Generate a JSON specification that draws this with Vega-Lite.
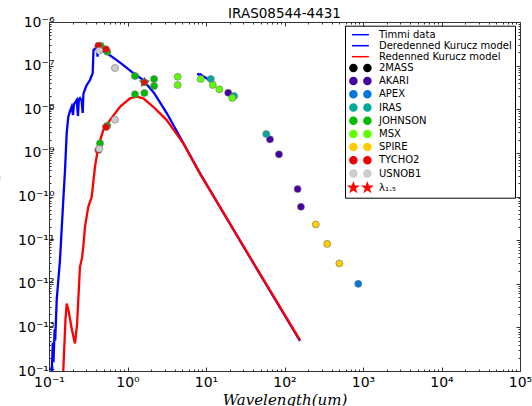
{
  "$schema": "https://vega.github.io/schema/vega-lite/v6.json",
  "width": 471,
  "height": 349,
  "autosize": {"type": "none"},
  "padding": {"left": 49, "top": 22, "right": 12, "bottom": 35},
  "background": "white",
  "title": {"text": "IRAS08544-4431", "font": "DejaVu Sans", "fontSize": 13.5, "fontWeight": "normal", "color": "black", "offset": -5},
  "datasets": {
    "lines": [
      {"s": "Deredenned Kurucz model", "x": 0.1082, "y": 1.0e-14},
      {"s": "Deredenned Kurucz model", "x": 0.1120, "y": 4.5e-14},
      {"s": "Deredenned Kurucz model", "x": 0.1140, "y": 1.6e-14},
      {"s": "Deredenned Kurucz model", "x": 0.1180, "y": 9.0e-14},
      {"s": "Deredenned Kurucz model", "x": 0.1200, "y": 5.0e-14},
      {"s": "Deredenned Kurucz model", "x": 0.1253, "y": 4.2e-13},
      {"s": "Deredenned Kurucz model", "x": 0.1314, "y": 1.21e-12},
      {"s": "Deredenned Kurucz model", "x": 0.1380, "y": 3.48e-12},
      {"s": "Deredenned Kurucz model", "x": 0.1521, "y": 8.3e-11},
      {"s": "Deredenned Kurucz model", "x": 0.1600, "y": 4.04e-10},
      {"s": "Deredenned Kurucz model", "x": 0.1680, "y": 2.84e-9},
      {"s": "Deredenned Kurucz model", "x": 0.1762, "y": 6.76e-9},
      {"s": "Deredenned Kurucz model", "x": 0.1850, "y": 9.0e-9},
      {"s": "Deredenned Kurucz model", "x": 0.1946, "y": 1.14e-8},
      {"s": "Deredenned Kurucz model", "x": 0.2020, "y": 7.4e-9},
      {"s": "Deredenned Kurucz model", "x": 0.2080, "y": 1.3e-8},
      {"s": "Deredenned Kurucz model", "x": 0.2254, "y": 1.63e-8},
      {"s": "Deredenned Kurucz model", "x": 0.2340, "y": 7.0e-9},
      {"s": "Deredenned Kurucz model", "x": 0.2400, "y": 1.7e-8},
      {"s": "Deredenned Kurucz model", "x": 0.2480, "y": 1.81e-8},
      {"s": "Deredenned Kurucz model", "x": 0.2600, "y": 1.6e-8},
      {"s": "Deredenned Kurucz model", "x": 0.2688, "y": 8.2e-9},
      {"s": "Deredenned Kurucz model", "x": 0.2740, "y": 2.2e-8},
      {"s": "Deredenned Kurucz model", "x": 0.2790, "y": 2.48e-8},
      {"s": "Deredenned Kurucz model", "x": 0.3020, "y": 3.59e-8},
      {"s": "Deredenned Kurucz model", "x": 0.3330, "y": 4.68e-8},
      {"s": "Deredenned Kurucz model", "x": 0.3603, "y": 6.76e-8},
      {"s": "Deredenned Kurucz model", "x": 0.3690, "y": 2.28e-7},
      {"s": "Deredenned Kurucz model", "x": 0.3900, "y": 2.5e-7},
      {"s": "Deredenned Kurucz model", "x": 0.4050, "y": 2.71e-7},
      {"s": "Deredenned Kurucz model", "x": 0.4150, "y": 1.6e-7},
      {"s": "Deredenned Kurucz model", "x": 0.4250, "y": 2.6e-7},
      {"s": "Deredenned Kurucz model", "x": 0.4464, "y": 2.28e-7},
      {"s": "Deredenned Kurucz model", "x": 0.5430, "y": 1.95e-7},
      {"s": "Deredenned Kurucz model", "x": 0.7286, "y": 1.34e-7},
      {"s": "Deredenned Kurucz model", "x": 0.8840, "y": 1.03e-7},
      {"s": "Deredenned Kurucz model", "x": 1.186, "y": 6.76e-8},
      {"s": "Deredenned Kurucz model", "x": 1.589, "y": 4.68e-8},
      {"s": "Deredenned Kurucz model", "x": 2.176, "y": 2.36e-8},
      {"s": "Deredenned Kurucz model", "x": 3.158, "y": 8.18e-9},
      {"s": "Deredenned Kurucz model", "x": 5.14, "y": 1.68e-9},
      {"s": "Deredenned Kurucz model", "x": 8.39, "y": 3.4e-10},
      {"s": "Deredenned Kurucz model", "x": 36.3, "y": 4.0e-12},
      {"s": "Deredenned Kurucz model", "x": 157.5, "y": 4.9e-14},
      {"s": "Timmi data", "x": 7.75, "y": 6.65e-8},
      {"s": "Timmi data", "x": 8.1, "y": 6.2e-8},
      {"s": "Timmi data", "x": 8.5, "y": 6.35e-8},
      {"s": "Timmi data", "x": 9.0, "y": 5.8e-8},
      {"s": "Timmi data", "x": 9.7, "y": 5.4e-8},
      {"s": "Timmi data", "x": 10.5, "y": 4.9e-8},
      {"s": "Timmi data", "x": 11.2, "y": 4.6e-8},
      {"s": "Timmi data", "x": 12.0, "y": 4.3e-8},
      {"s": "Timmi data", "x": 12.8, "y": 4.0e-8},
      {"s": "Redenned Kurucz model", "x": 0.152, "y": 1.0e-14},
      {"s": "Redenned Kurucz model", "x": 0.162, "y": 1.46e-13},
      {"s": "Redenned Kurucz model", "x": 0.168, "y": 3.53e-13},
      {"s": "Redenned Kurucz model", "x": 0.177, "y": 2.48e-13},
      {"s": "Redenned Kurucz model", "x": 0.1963, "y": 8.6e-14},
      {"s": "Redenned Kurucz model", "x": 0.2143, "y": 4.27e-14},
      {"s": "Redenned Kurucz model", "x": 0.2274, "y": 1.12e-13},
      {"s": "Redenned Kurucz model", "x": 0.236, "y": 4.2e-13},
      {"s": "Redenned Kurucz model", "x": 0.248, "y": 2.44e-12},
      {"s": "Redenned Kurucz model", "x": 0.2633, "y": 3.87e-12},
      {"s": "Redenned Kurucz model", "x": 0.2735, "y": 7.0e-12},
      {"s": "Redenned Kurucz model", "x": 0.2874, "y": 2.02e-11},
      {"s": "Redenned Kurucz model", "x": 0.3166, "y": 5.8e-11},
      {"s": "Redenned Kurucz model", "x": 0.35, "y": 9.8e-11},
      {"s": "Redenned Kurucz model", "x": 0.3855, "y": 4.8e-10},
      {"s": "Redenned Kurucz model", "x": 0.4246, "y": 1.38e-9},
      {"s": "Redenned Kurucz model", "x": 0.4916, "y": 3.33e-9},
      {"s": "Redenned Kurucz model", "x": 0.5985, "y": 5.65e-9},
      {"s": "Redenned Kurucz model", "x": 0.8025, "y": 1.14e-8},
      {"s": "Redenned Kurucz model", "x": 1.076, "y": 1.78e-8},
      {"s": "Redenned Kurucz model", "x": 1.31, "y": 1.94e-8},
      {"s": "Redenned Kurucz model", "x": 1.589, "y": 1.78e-8},
      {"s": "Redenned Kurucz model", "x": 2.132, "y": 1.14e-8},
      {"s": "Redenned Kurucz model", "x": 3.158, "y": 5.65e-9},
      {"s": "Redenned Kurucz model", "x": 5.14, "y": 1.65e-9},
      {"s": "Redenned Kurucz model", "x": 8.39, "y": 3.35e-10},
      {"s": "Redenned Kurucz model", "x": 36.3, "y": 4.1e-12},
      {"s": "Redenned Kurucz model", "x": 157.5, "y": 5.1e-14}
    ],
    "pts": [
      {"s": "AKARI", "x": 19.2, "y": 2.39e-8},
      {"s": "AKARI", "x": 65.3, "y": 2.04e-9},
      {"s": "AKARI", "x": 85, "y": 9.25e-10},
      {"s": "AKARI", "x": 147, "y": 1.48e-10},
      {"s": "AKARI", "x": 162, "y": 5.8e-11},
      {"s": "APEX", "x": 870, "y": 9.95e-13},
      {"s": "IRAS", "x": 11.5, "y": 4.93e-8},
      {"s": "IRAS", "x": 22.8, "y": 2.01e-8},
      {"s": "IRAS", "x": 58.6, "y": 2.7e-9},
      {"s": "JOHNSON", "x": 0.456, "y": 2.86e-7},
      {"s": "JOHNSON", "x": 0.553, "y": 2.08e-7},
      {"s": "JOHNSON", "x": 1.246, "y": 5.77e-8},
      {"s": "JOHNSON", "x": 1.64, "y": 4.14e-8},
      {"s": "JOHNSON", "x": 2.18, "y": 4.93e-8},
      {"s": "JOHNSON", "x": 2.18, "y": 3.4e-8},
      {"s": "JOHNSON", "x": 0.446, "y": 1.65e-9},
      {"s": "JOHNSON", "x": 0.553, "y": 4.19e-9},
      {"s": "JOHNSON", "x": 1.246, "y": 2.2e-8},
      {"s": "JOHNSON", "x": 1.64, "y": 2.36e-8},
      {"s": "MSX", "x": 4.36, "y": 5.56e-8},
      {"s": "MSX", "x": 4.36, "y": 3.59e-8},
      {"s": "MSX", "x": 8.56, "y": 4.93e-8},
      {"s": "MSX", "x": 12.2, "y": 3.59e-8},
      {"s": "MSX", "x": 14.8, "y": 2.86e-8},
      {"s": "MSX", "x": 21.6, "y": 1.81e-8},
      {"s": "SPIRE", "x": 250, "y": 2.29e-11},
      {"s": "SPIRE", "x": 350, "y": 8.2e-12},
      {"s": "SPIRE", "x": 500, "y": 2.92e-12},
      {"s": "TYCHO2", "x": 0.425, "y": 2.86e-7},
      {"s": "TYCHO2", "x": 0.532, "y": 2.37e-7},
      {"s": "TYCHO2", "x": 0.425, "y": 1.16e-9},
      {"s": "TYCHO2", "x": 0.532, "y": 3.9e-9},
      {"s": "USNOB1", "x": 0.437, "y": 2.2e-7},
      {"s": "USNOB1", "x": 0.693, "y": 8.8e-8},
      {"s": "USNOB1", "x": 0.437, "y": 1.24e-9},
      {"s": "USNOB1", "x": 0.693, "y": 5.74e-9},
      {"s": "λ₁.₅", "x": 1.64, "y": 4.14e-8}
    ]
  },
  "layer": [
    {
      "data": {"name": "lines"},
      "transform": [{"filter": "datum.s !== 'Redenned Kurucz model'"}],
      "mark": {"type": "line", "strokeWidth": 2.3},
      "encoding": {
        "x": {"field": "x", "type": "quantitative", "scale": {"type": "log", "domain": [0.1, 100000], "nice": false},
          "axis": {"orient": "bottom", "domain": false, "grid": false,
            "values": [0.1,0.2,0.3,0.4,0.5,0.6,0.7,0.8,0.9,1,2,3,4,5,6,7,8,9,10,20,30,40,50,60,70,80,90,100,200,300,400,500,600,700,800,900,1000,2000,3000,4000,5000,6000,7000,8000,9000,10000,20000,30000,40000,50000,60000,70000,80000,90000,100000],
            "labelExpr": "abs(log(datum.value)/LN10 - round(log(datum.value)/LN10)) > 0.01 ? '' : ['10⁻¹','10⁰','10¹','10²','10³','10⁴','10⁵'][round(log(datum.value)/LN10)+1]",
            "tickSize": {"condition": {"test": "abs(log(datum.value)/LN10 - round(log(datum.value)/LN10)) > 0.01", "value": -2}, "value": -4},
            "tickColor": "#333",
            "labelFont": "DejaVu Sans", "labelFontSize": 14, "labelColor": "black", "labelPadding": 8,
            "labelFlush": false, "labelOverlap": false,
            "title": "Wavelength(um)", "titleFont": "DejaVu Serif", "titleFontStyle": "italic", "titleFontWeight": "normal", "titleFontSize": 15, "titleColor": "black", "titleY": 33, "titleBaseline": "alphabetic"}},
        "y": {"field": "y", "type": "quantitative", "scale": {"type": "log", "domain": [1e-14, 1e-6], "nice": false},
          "axis": {"orient": "left", "domain": false, "grid": false,
            "values": [1e-14,2e-14,3e-14,4e-14,5e-14,6e-14,7e-14,8e-14,9e-14,1e-13,2e-13,3e-13,4e-13,5e-13,6e-13,7e-13,8e-13,9e-13,1e-12,2e-12,3e-12,4e-12,5e-12,6e-12,7e-12,8e-12,9e-12,1e-11,2e-11,3e-11,4e-11,5e-11,6e-11,7e-11,8e-11,9e-11,1e-10,2e-10,3e-10,4e-10,5e-10,6e-10,7e-10,8e-10,9e-10,1e-9,2e-9,3e-9,4e-9,5e-9,6e-9,7e-9,8e-9,9e-9,1e-8,2e-8,3e-8,4e-8,5e-8,6e-8,7e-8,8e-8,9e-8,1e-7,2e-7,3e-7,4e-7,5e-7,6e-7,7e-7,8e-7,9e-7,1e-6],
            "labelExpr": "abs(log(datum.value)/LN10 - round(log(datum.value)/LN10)) > 0.01 ? '' : ['10⁻¹⁴','10⁻¹³','10⁻¹²','10⁻¹¹','10⁻¹⁰','10⁻⁹','10⁻⁸','10⁻⁷','10⁻⁶'][round(log(datum.value)/LN10)+14]",
            "tickSize": {"condition": {"test": "abs(log(datum.value)/LN10 - round(log(datum.value)/LN10)) > 0.01", "value": -2}, "value": -4},
            "tickColor": "#333",
            "labelFont": "DejaVu Sans", "labelFontSize": 14, "labelColor": "black", "labelPadding": -1,
            "labelFlush": false, "labelOverlap": false,
            "title": "λFλ (erg/s/cm²)", "titleFont": "DejaVu Serif", "titleFontStyle": "italic", "titleFontWeight": "normal", "titleFontSize": 15, "titleColor": "black", "titleX": -50, "titleY": 155, "titleBaseline": "bottom"}},
        "color": {"field": "s", "type": "nominal",
          "scale": {"domain": ["Timmi data","Deredenned Kurucz model","Redenned Kurucz model","2MASS","AKARI","APEX","IRAS","JOHNSON","MSX","SPIRE","TYCHO2","USNOB1","λ₁.₅"],
                    "range": ["#0000ff","#0000ff","#ff0000","#000000","#4400a1","#0077dd","#00aa99","#00bb00","#5dff00","#ffcc00","#ee0000","#cccccc","#ff0000"]}}
      }
    },
    {
      "data": {"name": "lines"},
      "transform": [{"filter": "datum.s === 'Redenned Kurucz model'"}],
      "mark": {"type": "line", "strokeWidth": 2.3},
      "encoding": {
        "x": {"field": "x", "type": "quantitative", "axis": null},
        "y": {"field": "y", "type": "quantitative", "axis": null},
        "color": {"field": "s", "type": "nominal"}
      }
    },
    {
      "data": {"name": "pts"},
      "transform": [{"filter": "datum.s !== 'λ₁.₅'"}],
      "mark": {"type": "point", "shape": "circle", "filled": true, "size": 50, "opacity": 1, "stroke": "#777", "strokeWidth": 0.6},
      "encoding": {
        "x": {"field": "x", "type": "quantitative", "axis": null},
        "y": {"field": "y", "type": "quantitative", "axis": null},
        "color": {"field": "s", "type": "nominal"}
      }
    },
    {
      "data": {"name": "pts"},
      "transform": [{"filter": "datum.s === 'λ₁.₅'"}],
      "mark": {"type": "point", "shape": "M0,-1 L0.2351,-0.3236 L0.9511,-0.309 L0.3804,0.1236 L0.5878,0.809 L0,0.4 L-0.5878,0.809 L-0.3804,0.1236 L-0.9511,-0.309 L-0.2351,-0.3236 Z", "filled": true, "size": 110, "opacity": 1, "stroke": "#555", "strokeWidth": 0.6},
      "encoding": {
        "x": {"field": "x", "type": "quantitative", "axis": null},
        "y": {"field": "y", "type": "quantitative", "axis": null},
        "color": {"field": "s", "type": "nominal"}
      }
    },
    {
      "data": {"name": "pts"},
      "transform": [{"filter": "false"}],
      "mark": {"type": "point", "filled": true},
      "encoding": {
        "x": {"field": "x", "type": "quantitative",
          "axis": {"orient": "top", "domain": false, "grid": false, "labels": false, "title": null,
            "values": [0.1,0.2,0.3,0.4,0.5,0.6,0.7,0.8,0.9,1,2,3,4,5,6,7,8,9,10,20,30,40,50,60,70,80,90,100,200,300,400,500,600,700,800,900,1000,2000,3000,4000,5000,6000,7000,8000,9000,10000,20000,30000,40000,50000,60000,70000,80000,90000,100000],
            "tickSize": {"condition": {"test": "abs(log(datum.value)/LN10 - round(log(datum.value)/LN10)) > 0.01", "value": -2}, "value": -4},
            "tickColor": "#333"}},
        "y": {"field": "y", "type": "quantitative",
          "axis": {"orient": "right", "domain": false, "grid": false, "labels": false, "title": null,
            "values": [1e-14,2e-14,3e-14,4e-14,5e-14,6e-14,7e-14,8e-14,9e-14,1e-13,2e-13,3e-13,4e-13,5e-13,6e-13,7e-13,8e-13,9e-13,1e-12,2e-12,3e-12,4e-12,5e-12,6e-12,7e-12,8e-12,9e-12,1e-11,2e-11,3e-11,4e-11,5e-11,6e-11,7e-11,8e-11,9e-11,1e-10,2e-10,3e-10,4e-10,5e-10,6e-10,7e-10,8e-10,9e-10,1e-9,2e-9,3e-9,4e-9,5e-9,6e-9,7e-9,8e-9,9e-9,1e-8,2e-8,3e-8,4e-8,5e-8,6e-8,7e-8,8e-8,9e-8,1e-7,2e-7,3e-7,4e-7,5e-7,6e-7,7e-7,8e-7,9e-7,1e-6],
            "tickSize": {"condition": {"test": "abs(log(datum.value)/LN10 - round(log(datum.value)/LN10)) > 0.01", "value": -2}, "value": -4},
            "tickColor": "#333"}},
        "color": {"field": "s", "type": "nominal",
          "legend": {
            "orient": "none", "legendX": 296, "legendY": 3.7, "title": null,
            "padding": 3, "strokeColor": "black", "fillColor": "white",
            "labelFont": "DejaVu Sans", "labelFontSize": 10, "labelColor": "black", "labelOffset": 19,
            "symbolSize": 100, "rowPadding": -0.8,
            "encode": {"symbols": {"update": {
              "shape": {"scale": "shape", "field": "value"},
              "opacity": {"value": 1},
              "fill": [{"test": "datum.value==='Timmi data'||datum.value==='Deredenned Kurucz model'||datum.value==='Redenned Kurucz model'", "value": "transparent"}, {"scale": "color", "field": "value"}],
              "stroke": [{"test": "datum.value==='Timmi data'||datum.value==='Deredenned Kurucz model'||datum.value==='Redenned Kurucz model'", "scale": "color", "field": "value"}, {"value": "#777"}],
              "strokeWidth": [{"test": "datum.value==='Timmi data'||datum.value==='Deredenned Kurucz model'||datum.value==='Redenned Kurucz model'", "value": 2}, {"value": 0.6}]
            }}}
          }},
        "shape": {"field": "s", "type": "nominal",
          "scale": {"domain": ["Timmi data","Deredenned Kurucz model","Redenned Kurucz model","2MASS","AKARI","APEX","IRAS","JOHNSON","MSX","SPIRE","TYCHO2","USNOB1","λ₁.₅"],
                    "range": [
                      "M-0.42,0 L2.98,0", "M-0.42,0 L2.98,0", "M-0.42,0 L2.98,0",
                      "M-0.82,0 A0.7,0.7 0 1,0 0.58,0 A0.7,0.7 0 1,0 -0.82,0 Z M1.98,0 A0.7,0.7 0 1,0 3.38,0 A0.7,0.7 0 1,0 1.98,0 Z",
                      "M-0.82,0 A0.7,0.7 0 1,0 0.58,0 A0.7,0.7 0 1,0 -0.82,0 Z M1.98,0 A0.7,0.7 0 1,0 3.38,0 A0.7,0.7 0 1,0 1.98,0 Z",
                      "M-0.82,0 A0.7,0.7 0 1,0 0.58,0 A0.7,0.7 0 1,0 -0.82,0 Z M1.98,0 A0.7,0.7 0 1,0 3.38,0 A0.7,0.7 0 1,0 1.98,0 Z",
                      "M-0.82,0 A0.7,0.7 0 1,0 0.58,0 A0.7,0.7 0 1,0 -0.82,0 Z M1.98,0 A0.7,0.7 0 1,0 3.38,0 A0.7,0.7 0 1,0 1.98,0 Z",
                      "M-0.82,0 A0.7,0.7 0 1,0 0.58,0 A0.7,0.7 0 1,0 -0.82,0 Z M1.98,0 A0.7,0.7 0 1,0 3.38,0 A0.7,0.7 0 1,0 1.98,0 Z",
                      "M-0.82,0 A0.7,0.7 0 1,0 0.58,0 A0.7,0.7 0 1,0 -0.82,0 Z M1.98,0 A0.7,0.7 0 1,0 3.38,0 A0.7,0.7 0 1,0 1.98,0 Z",
                      "M-0.82,0 A0.7,0.7 0 1,0 0.58,0 A0.7,0.7 0 1,0 -0.82,0 Z M1.98,0 A0.7,0.7 0 1,0 3.38,0 A0.7,0.7 0 1,0 1.98,0 Z",
                      "M-0.82,0 A0.7,0.7 0 1,0 0.58,0 A0.7,0.7 0 1,0 -0.82,0 Z M1.98,0 A0.7,0.7 0 1,0 3.38,0 A0.7,0.7 0 1,0 1.98,0 Z",
                      "M-0.82,0 A0.7,0.7 0 1,0 0.58,0 A0.7,0.7 0 1,0 -0.82,0 Z M1.98,0 A0.7,0.7 0 1,0 3.38,0 A0.7,0.7 0 1,0 1.98,0 Z",
                      "M-0.12,-0.9 L0.092,-0.291 L0.736,-0.278 L0.222,0.111 L0.409,0.728 L-0.12,0.36 L-0.649,0.728 L-0.462,0.111 L-0.976,-0.278 L-0.332,-0.291 Z M2.68,-0.9 L2.892,-0.291 L3.536,-0.278 L3.022,0.111 L3.209,0.728 L2.68,0.36 L2.151,0.728 L2.338,0.111 L1.824,-0.278 L2.468,-0.291 Z"
                    ]}}
      }
    }
  ],
  "resolve": {"axis": {"x": "independent", "y": "independent"}},
  "config": {
    "view": {"stroke": "#333", "strokeWidth": 1}
  }
}
